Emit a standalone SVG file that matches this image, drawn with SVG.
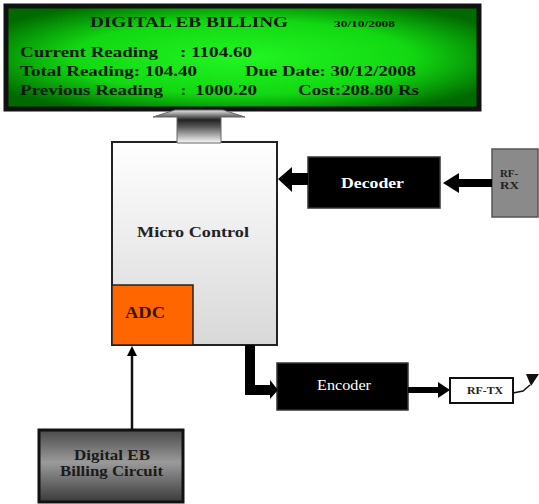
<svg xmlns="http://www.w3.org/2000/svg" width="539" height="504" viewBox="0 0 539 504">
<defs>
<style>
text{font-family:"Liberation Serif","Times New Roman",serif;font-weight:bold}
.lcd{font-size:14.5px;fill:#0a1a0a}
.blk{fill:#000}
</style>
<radialGradient id="gGreen" cx="0.5" cy="0.5" r="0.6">
<stop offset="0" stop-color="#22f522"/>
<stop offset="0.6" stop-color="#12d812"/>
<stop offset="1" stop-color="#006a00"/>
</radialGradient>
<linearGradient id="gMicro" x1="0" y1="0" x2="0" y2="1">
<stop offset="0" stop-color="#ffffff"/>
<stop offset="1" stop-color="#d8d8d8"/>
</linearGradient>
<linearGradient id="gBill" x1="0" y1="0" x2="0" y2="1">
<stop offset="0" stop-color="#4a4a4a"/>
<stop offset="0.45" stop-color="#9a9a9a"/>
<stop offset="1" stop-color="#3a3a3a"/>
</linearGradient>
<linearGradient id="gUp" x1="0" y1="0" x2="0" y2="1">
<stop offset="0" stop-color="#e8e8e8"/>
<stop offset="0.3" stop-color="#222"/>
<stop offset="0.5" stop-color="#555"/>
<stop offset="1" stop-color="#fafafa"/>
</linearGradient>
</defs>

<g id="lcd">
<rect x="6" y="6" width="473" height="103" fill="url(#gGreen)" stroke="#111" stroke-width="5"/>
<text x="90" y="27" font-size="15" textLength="198" lengthAdjust="spacingAndGlyphs" fill="#0a1a0a">DIGITAL EB BILLING</text>
<text x="334" y="27" font-size="8" textLength="61" lengthAdjust="spacingAndGlyphs" fill="#0a1a0a">30/10/2008</text>
<text class="lcd" x="20" y="57" textLength="138" lengthAdjust="spacingAndGlyphs">Current Reading</text>
<text class="lcd" x="180" y="57" textLength="72" lengthAdjust="spacingAndGlyphs">: 1104.60</text>
<text class="lcd" x="20" y="76" textLength="177" lengthAdjust="spacingAndGlyphs">Total Reading: 104.40</text>
<text class="lcd" x="245" y="76" textLength="171" lengthAdjust="spacingAndGlyphs">Due Date: 30/12/2008</text>
<text class="lcd" x="20" y="95" textLength="143" lengthAdjust="spacingAndGlyphs">Previous Reading</text>
<text class="lcd" x="181" y="95">:</text>
<text class="lcd" x="195" y="95" textLength="62" lengthAdjust="spacingAndGlyphs">1000.20</text>
<text class="lcd" x="298" y="95" textLength="121" lengthAdjust="spacingAndGlyphs">Cost:208.80 Rs</text>
</g>

<g id="micro">
<rect x="112" y="142" width="165" height="203" fill="url(#gMicro)" stroke="#222" stroke-width="2"/>
<text x="137" y="237" font-size="15" textLength="112" lengthAdjust="spacingAndGlyphs" fill="#222">Micro Control</text>
</g>

<g id="adc">
<rect x="112" y="285" width="81" height="60" fill="#ff6600" stroke="#222" stroke-width="1.5"/>
<text x="125" y="318" font-size="16" textLength="40" lengthAdjust="spacingAndGlyphs" fill="#3a1400">ADC</text>
</g>

<g id="decoder">
<rect x="308" y="157" width="132" height="51" fill="#000" stroke="#333" stroke-width="1.5"/>
<text x="341" y="188" font-size="15" textLength="63" lengthAdjust="spacingAndGlyphs" fill="#fff">Decoder</text>
</g>

<g id="rfrx">
<rect x="492" y="149" width="46" height="68" fill="#8a8a8a" stroke="#555" stroke-width="1.5"/>
<text x="500" y="177" font-size="11" textLength="18" lengthAdjust="spacingAndGlyphs" fill="#222">RF-</text>
<text x="500" y="189" font-size="11" textLength="19" lengthAdjust="spacingAndGlyphs" fill="#222">RX</text>
</g>

<g id="encoder">
<rect x="277" y="363" width="131" height="47" fill="#000" stroke="#333" stroke-width="1.5"/>
<text x="317" y="390" font-size="14" style="font-weight:normal" textLength="54" lengthAdjust="spacingAndGlyphs" fill="#fff">Encoder</text>
</g>

<g id="rftx">
<rect x="450" y="378" width="63" height="25" fill="#fff" stroke="#111" stroke-width="2"/>
<text x="467" y="394" font-size="9.5" textLength="36" lengthAdjust="spacingAndGlyphs" fill="#222">RF-TX</text>
<polyline points="513,393 523,391 530,385" fill="none" stroke="#111" stroke-width="1.5"/>
<polygon points="526,374 539,374 531,386" fill="#111"/>
</g>

<g id="billing">
<rect x="39" y="430" width="144" height="72" fill="url(#gBill)" stroke="#111" stroke-width="3"/>
<text x="74" y="460" font-size="14" textLength="76" lengthAdjust="spacingAndGlyphs" fill="#1a1a1a">Digital EB</text>
<text x="60" y="476" font-size="14" textLength="103" lengthAdjust="spacingAndGlyphs" fill="#1a1a1a">Billing Circuit</text>
</g>

<g id="connectors">
<polygon points="177,143 177,117 153,117 175,110 223,110 245,117 221,117 221,143" fill="url(#gUp)" stroke="#666" stroke-width="1"/>
<polygon points="308,173 292,173 292,167 278,179 292,192 292,185 308,185" class="blk"/>
<polygon points="492,179 459,179 459,173 443,183 459,193 459,187 492,187" class="blk"/>
<polygon points="245,345 255,345 255,385 270,385 270,380 278,390 270,399 270,395 245,395" class="blk"/>
<polygon points="408,387 438,387 438,382 450,390 438,398 438,393 408,393" class="blk"/>
<line x1="132" y1="430" x2="132" y2="354" stroke="#111" stroke-width="2.5"/>
<polygon points="132,346 127,356 137,356" class="blk"/>
</g>
</svg>
